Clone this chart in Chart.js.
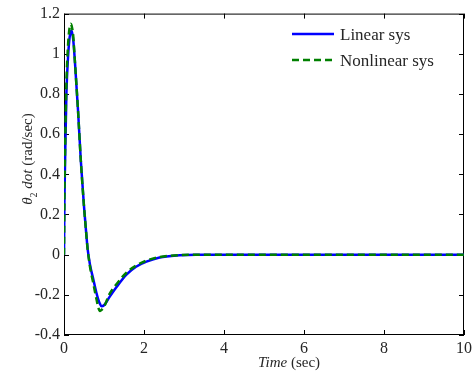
<html>
<head>
<script src="https://cdn.jsdelivr.net/npm/chart.js@4.4.1/dist/chart.umd.min.js"></script>
<style>
  body { margin: 0; background: #fff; }
</style>
</head>
<body>
<canvas id="myChart" width="476" height="376"></canvas>
<script>
// time (sec) and the two responses
const timeSec = [0, 0.01, 0.03, 0.06, 0.1, 0.14, 0.17, 0.19, 0.23, 0.27, 0.35, 0.42, 0.5, 0.55, 0.59, 0.65, 0.73, 0.81, 0.86, 0.9, 0.94, 1.0, 1.14, 1.3, 1.56, 1.8, 2.06, 2.39, 2.89, 3.3, 4, 5, 6, 7, 8, 9, 10];
const linearSys = [0, 0.25, 0.5, 0.8, 0.98, 1.08, 1.11, 1.116, 1.07, 0.97, 0.72, 0.47, 0.24, 0.12, 0.03, -0.05, -0.12, -0.19, -0.225, -0.245, -0.257, -0.252, -0.21, -0.165, -0.1, -0.06, -0.035, -0.014, -0.003, 0, 0, 0, 0, 0, 0, 0, 0];
const nonlinearSys = [0, 0.27, 0.55, 0.85, 1.04, 1.13, 1.149, 1.14, 1.09, 0.97, 0.72, 0.47, 0.24, 0.12, 0.03, -0.06, -0.14, -0.22, -0.265, -0.28, -0.275, -0.26, -0.195, -0.15, -0.09, -0.055, -0.03, -0.012, -0.002, 0, 0, 0, 0, 0, 0, 0, 0];
const seriesLabels = ["Linear sys", "Nonlinear sys"];
const xTicks = [0, 2, 4, 6, 8, 10];
const yTicks = [-0.4, -0.2, 0, 0.2, 0.4, 0.6, 0.8, 1, 1.2];

const SERIF = "'Times New Roman', 'Liberation Serif', serif";
const TXT = "#262626";

// box, inward ticks, legend and the mixed-style axis titles
const decor = {
  id: "decor",
  beforeDatasetsDraw(chart) {
    const { ctx, chartArea: a, scales } = chart;
    ctx.save();
    ctx.strokeStyle = "#000";
    ctx.lineWidth = 1;
    ctx.strokeRect(a.left + 0.5, a.top + 0.5, a.right - a.left - 1, a.bottom - a.top - 1);
    const L = 5;
    ctx.beginPath();
    scales.x.ticks.forEach((t) => {
      const px = Math.round(scales.x.getPixelForValue(t.value)) + 0.5;
      ctx.moveTo(px, a.bottom); ctx.lineTo(px, a.bottom - L);
      ctx.moveTo(px, a.top); ctx.lineTo(px, a.top + L);
    });
    scales.y.ticks.forEach((t) => {
      const py = Math.round(scales.y.getPixelForValue(t.value)) + 0.5;
      ctx.moveTo(a.left, py); ctx.lineTo(a.left + L, py);
      ctx.moveTo(a.right, py); ctx.lineTo(a.right - L, py);
    });
    ctx.stroke();
    ctx.restore();
  },
  afterDraw(chart) {
    const { ctx } = chart;
    ctx.save();
    ctx.fillStyle = TXT;
    ctx.textBaseline = "alphabetic";

    // legend
    chart.data.datasets.forEach((ds, i) => {
      const y = 34 + i * 26;
      ctx.save();
      ctx.strokeStyle = ds.borderColor;
      ctx.lineWidth = 2.5;
      ctx.setLineDash(ds.borderDash || []);
      ctx.beginPath();
      ctx.moveTo(292, y); ctx.lineTo(334, y);
      ctx.stroke();
      ctx.restore();
      ctx.font = "17px " + SERIF;
      ctx.textAlign = "left";
      ctx.fillText(ds.label, 340, y + 6);
    });

    // x title: Time (sec)
    const f1 = "italic 15px " + SERIF, f2 = "15px " + SERIF;
    ctx.font = f1; const w1 = ctx.measureText("Time").width;
    ctx.font = f2; const w2 = ctx.measureText(" (sec)").width;
    const x0 = 289 - (w1 + w2) / 2;
    ctx.textAlign = "left";
    ctx.font = f1; ctx.fillText("Time", x0, 367);
    ctx.font = f2; ctx.fillText(" (sec)", x0 + w1, 367);

    // y title: theta_2 dot (rad/sec)
    const parts = [
      ["\u03b8", "italic 15px " + SERIF, 0],
      ["2", "10px " + SERIF, 5],
      [" dot", "italic 15px " + SERIF, 0],
      [" (rad/sec)", "15px " + SERIF, 0],
    ];
    let total = 0;
    parts.forEach((p) => { ctx.font = p[1]; p.push(ctx.measureText(p[0]).width); total += p[3]; });
    ctx.translate(32, 159);
    ctx.rotate(-Math.PI / 2);
    let cx = -total / 2;
    parts.forEach((p) => {
      ctx.font = p[1];
      ctx.fillText(p[0], cx, p[2]);
      cx += p[3];
    });
    ctx.restore();
  },
};

const tickFont = { family: SERIF, size: 16 };

const config = {
  type: "line",
  data: {
    datasets: [
      {
        label: seriesLabels[0],
        data: timeSec.map((t, i) => ({ x: t, y: linearSys[i] })),
        borderColor: "#0000ff",
        borderWidth: 2.5,
        pointRadius: 0,
        cubicInterpolationMode: "monotone",
        order: 2,
      },
      {
        label: seriesLabels[1],
        data: timeSec.map((t, i) => ({ x: t, y: nonlinearSys[i] })),
        borderColor: "#008000",
        borderWidth: 2.5,
        borderDash: [7, 4],
        pointRadius: 0,
        cubicInterpolationMode: "monotone",
        order: 1,
      },
    ],
  },
  options: {
    responsive: false,
    animation: false,
    layout: { padding: { top: 13, right: 10, left: 0, bottom: 0 } },
    plugins: { legend: { display: false }, tooltip: { enabled: false } },
    scales: {
      x: {
        type: "linear",
        min: 0,
        max: 10,
        afterBuildTicks: (s) => { s.ticks = xTicks.map((v) => ({ value: v })); },
        afterFit: (s) => { s.height = 41; },
        grid: { display: false, drawTicks: false },
        border: { display: false },
        ticks: { font: tickFont, color: TXT, padding: 4, maxRotation: 0, autoSkip: false, callback: (v) => String(v) },
      },
      y: {
        type: "linear",
        min: -0.4,
        max: 1.2,
        afterBuildTicks: (s) => { s.ticks = yTicks.map((v) => ({ value: v })); },
        afterFit: (s) => { s.width = 64; },
        grid: { display: false, drawTicks: false },
        border: { display: false },
        ticks: { font: tickFont, color: TXT, padding: 4, autoSkip: false, callback: (v) => String(v) },
      },
    },
  },
  plugins: [decor],
};

const myChart = new Chart(document.getElementById("myChart"), config);
</script>
</body>
</html>
